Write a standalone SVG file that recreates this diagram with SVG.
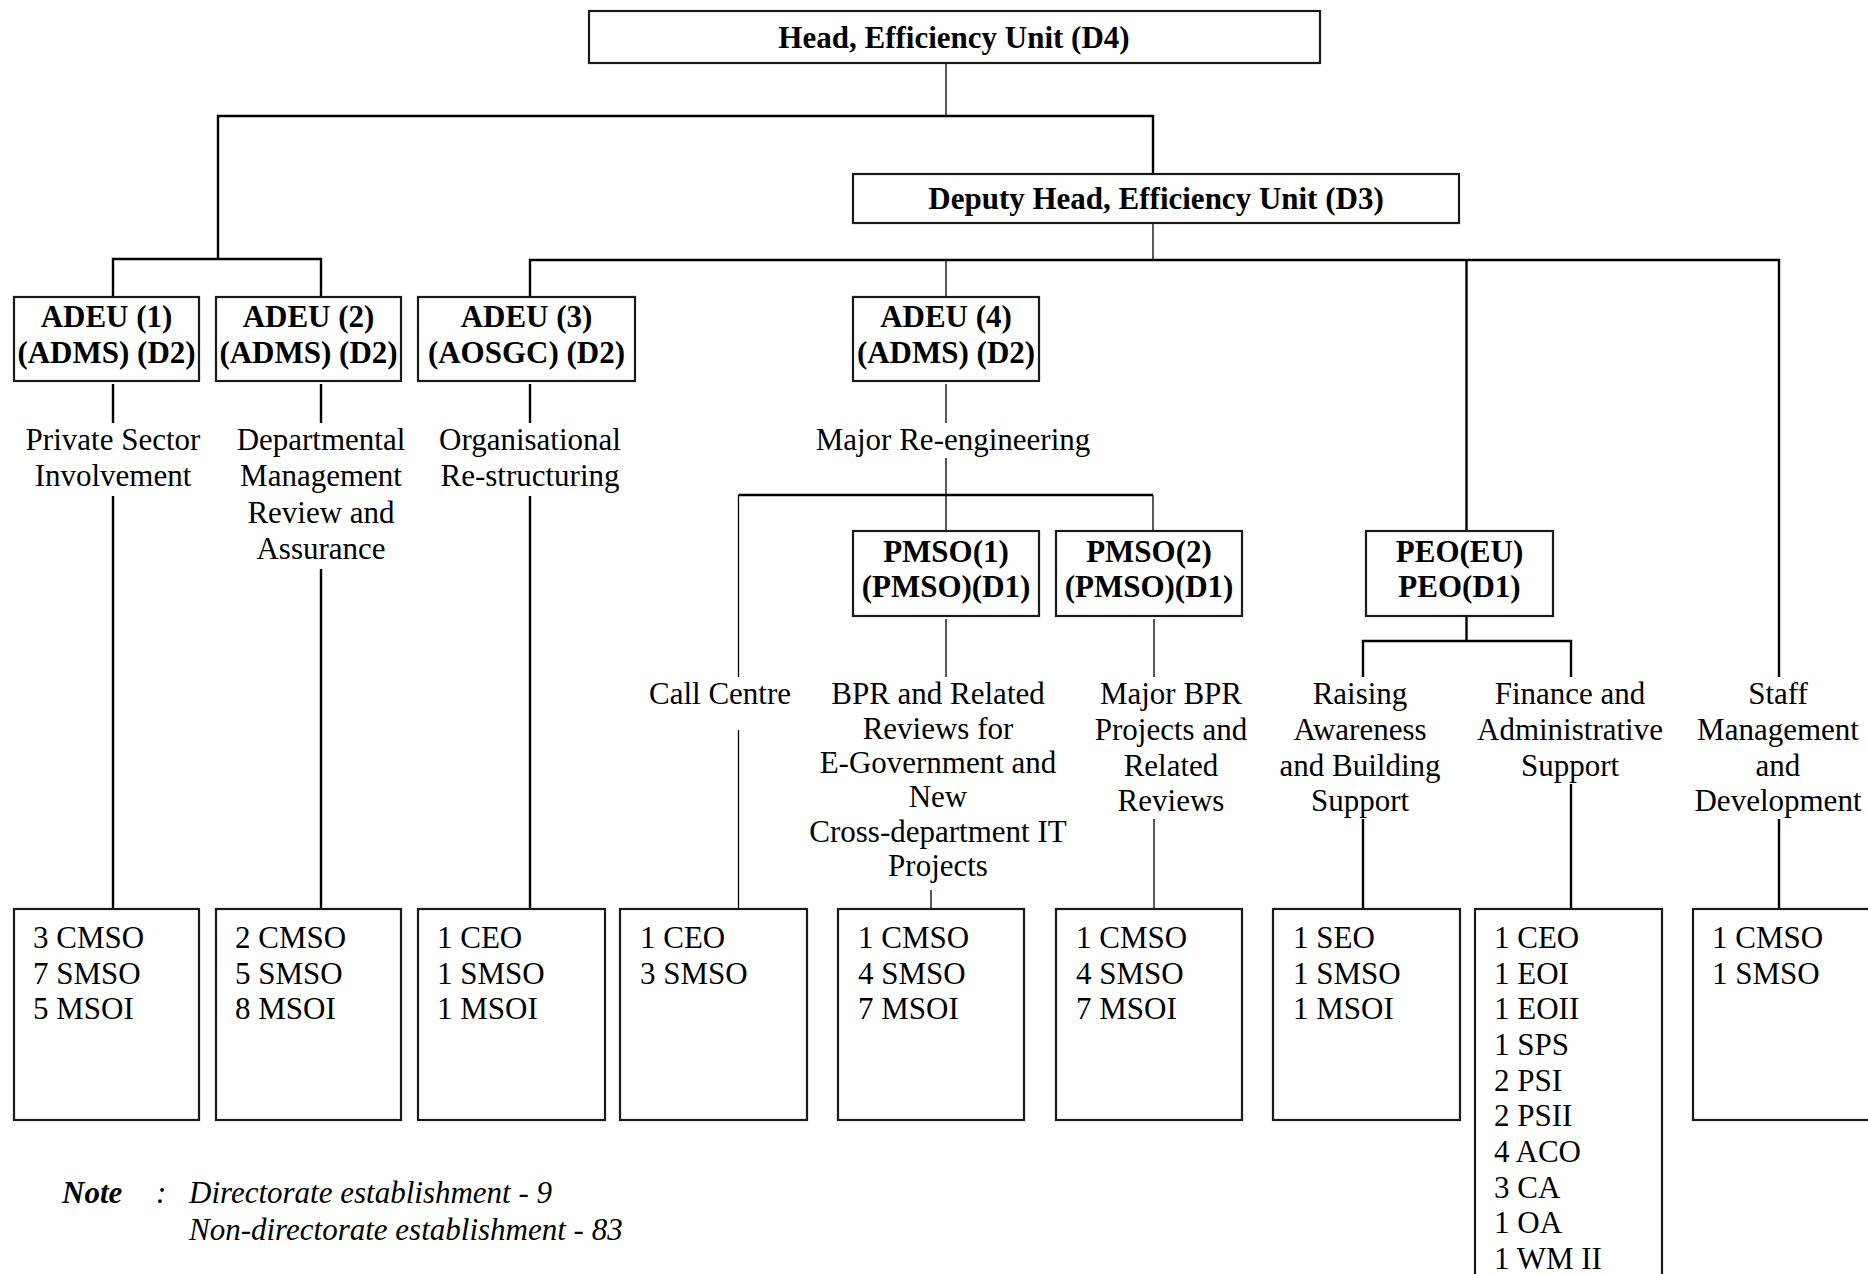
<svg xmlns="http://www.w3.org/2000/svg" width="1868" height="1274" viewBox="0 0 1868 1274">
<style>
.box{fill:#fff;stroke:#1a1a1a;stroke-width:2.2}
.thin{fill:none;stroke:#000;stroke-width:1.3}
.thick{fill:none;stroke:#000;stroke-width:2.4}
text{font-family:"Liberation Serif","Times New Roman",serif;font-size:31px;fill:#000}
.b{font-weight:bold;text-anchor:middle}
.c{text-anchor:middle}
.note{font-style:italic}
</style>
<rect width="1868" height="1274" fill="#fff"/>
<g id="connectors">
<path class="thin" d="M946 63V116M1153 223V260M946 260V297M946 384V423M946 458V495M738.5 495V677M738.5 730V909M946 495V531M1153 495V531M946 619V677M1154 619V677M931 890V909M1154 819V909"/>
<path class="thick" d="M218 259V116H1153V174M113 297V259H321V297M530 297V260H1779V677M1466.5 260V531M113 384V423M321 384V423M530 384V423M113 496V909M321 569V909M530 496V909M738.5 495H1153M1466.5 616V641M1363 677V641H1571V677M1363 819V909M1571 784V909M1779 819V909"/>
</g>
<g id="head"><rect class="box" x="589" y="11" width="731" height="52"/><text class="b" x="954" y="48">Head, Efficiency Unit (D4)</text></g>
<g id="deputy"><rect class="box" x="853" y="174" width="606" height="49"/><text class="b" x="1156" y="209">Deputy Head, Efficiency Unit (D3)</text></g>
<g id="adeu1"><rect class="box" x="14" y="297" width="185" height="84"/><text class="b" x="106.5" y="327">ADEU (1)</text><text class="b" x="106.5" y="363">(ADMS) (D2)</text></g>
<g id="adeu2"><rect class="box" x="216" y="297" width="185" height="84"/><text class="b" x="308.5" y="327">ADEU (2)</text><text class="b" x="308.5" y="363">(ADMS) (D2)</text></g>
<g id="adeu3"><rect class="box" x="418" y="297" width="217" height="84"/><text class="b" x="526.5" y="327">ADEU (3)</text><text class="b" x="526.5" y="363">(AOSGC) (D2)</text></g>
<g id="adeu4"><rect class="box" x="853" y="297" width="186" height="84"/><text class="b" x="946" y="327">ADEU (4)</text><text class="b" x="946" y="363">(ADMS) (D2)</text></g>
<g id="pmso1"><rect class="box" x="853" y="531" width="186" height="85"/><text class="b" x="946" y="562">PMSO(1)</text><text class="b" x="946" y="597">(PMSO)(D1)</text></g>
<g id="pmso2"><rect class="box" x="1056" y="531" width="186" height="85"/><text class="b" x="1149" y="562">PMSO(2)</text><text class="b" x="1149" y="597">(PMSO)(D1)</text></g>
<g id="peo"><rect class="box" x="1366" y="531" width="187" height="85"/><text class="b" x="1459.5" y="562">PEO(EU)</text><text class="b" x="1459.5" y="597">PEO(D1)</text></g>
<g id="label-private"><text class="c" x="113" y="450">Private Sector</text><text class="c" x="113" y="486">Involvement</text></g>
<g id="label-departmental"><text class="c" x="321" y="450">Departmental</text><text class="c" x="321" y="486">Management</text><text class="c" x="321" y="523">Review and</text><text class="c" x="321" y="559">Assurance</text></g>
<g id="label-organisational"><text class="c" x="530" y="450">Organisational</text><text class="c" x="530" y="486">Re-structuring</text></g>
<g id="label-major"><text class="c" x="953" y="450">Major Re-engineering</text></g>
<g id="label-callcentre"><text class="c" x="720" y="704">Call Centre</text></g>
<g id="label-bpr"><text class="c" x="938" y="704">BPR and Related</text><text class="c" x="938" y="739">Reviews for</text><text class="c" x="938" y="773">E-Government and</text><text class="c" x="938" y="807">New</text><text class="c" x="938" y="842">Cross-department IT</text><text class="c" x="938" y="876">Projects</text></g>
<g id="label-majorbpr"><text class="c" x="1171" y="704">Major BPR</text><text class="c" x="1171" y="740">Projects and</text><text class="c" x="1171" y="776">Related</text><text class="c" x="1171" y="811">Reviews</text></g>
<g id="label-raising"><text class="c" x="1360" y="704">Raising</text><text class="c" x="1360" y="740">Awareness</text><text class="c" x="1360" y="776">and Building</text><text class="c" x="1360" y="811">Support</text></g>
<g id="label-finance"><text class="c" x="1570" y="704">Finance and</text><text class="c" x="1570" y="740">Administrative</text><text class="c" x="1570" y="776">Support</text></g>
<g id="label-staff"><text class="c" x="1778" y="704">Staff</text><text class="c" x="1778" y="740">Management</text><text class="c" x="1778" y="776">and</text><text class="c" x="1778" y="811">Development</text></g>
<g id="staff1"><rect class="box" x="14" y="909" width="185" height="211"/><text x="33" y="948">3 CMSO</text><text x="33" y="984">7 SMSO</text><text x="33" y="1019">5 MSOI</text></g>
<g id="staff2"><rect class="box" x="216" y="909" width="185" height="211"/><text x="235" y="948">2 CMSO</text><text x="235" y="984">5 SMSO</text><text x="235" y="1019">8 MSOI</text></g>
<g id="staff3"><rect class="box" x="418" y="909" width="187" height="211"/><text x="437" y="948">1 CEO</text><text x="437" y="984">1 SMSO</text><text x="437" y="1019">1 MSOI</text></g>
<g id="staff4"><rect class="box" x="620" y="909" width="187" height="211"/><text x="640" y="948">1 CEO</text><text x="640" y="984">3 SMSO</text></g>
<g id="staff5"><rect class="box" x="838" y="909" width="186" height="211"/><text x="858" y="948">1 CMSO</text><text x="858" y="984">4 SMSO</text><text x="858" y="1019">7 MSOI</text></g>
<g id="staff6"><rect class="box" x="1056" y="909" width="186" height="211"/><text x="1076" y="948">1 CMSO</text><text x="1076" y="984">4 SMSO</text><text x="1076" y="1019">7 MSOI</text></g>
<g id="staff7"><rect class="box" x="1273" y="909" width="187" height="211"/><text x="1293" y="948">1 SEO</text><text x="1293" y="984">1 SMSO</text><text x="1293" y="1019">1 MSOI</text></g>
<g id="staff8"><rect class="box" x="1475" y="909" width="187" height="400"/><text x="1494" y="948">1 CEO</text><text x="1494" y="984">1 EOI</text><text x="1494" y="1019">1 EOII</text><text x="1494" y="1055">1 SPS</text><text x="1494" y="1091">2 PSI</text><text x="1494" y="1126">2 PSII</text><text x="1494" y="1162">4 ACO</text><text x="1494" y="1198">3 CA</text><text x="1494" y="1233">1 OA</text><text x="1494" y="1269">1 WM II</text></g>
<g id="staff9"><rect class="box" x="1693" y="909" width="187" height="211"/><text x="1712" y="948">1 CMSO</text><text x="1712" y="984">1 SMSO</text></g>
<g id="note"><text class="note" x="62" y="1203" font-weight="bold">Note</text><text class="note" x="156" y="1203">:</text><text class="note" x="189" y="1203">Directorate establishment - 9</text><text class="note" x="189" y="1240">Non-directorate establishment - 83</text></g>
</svg>
